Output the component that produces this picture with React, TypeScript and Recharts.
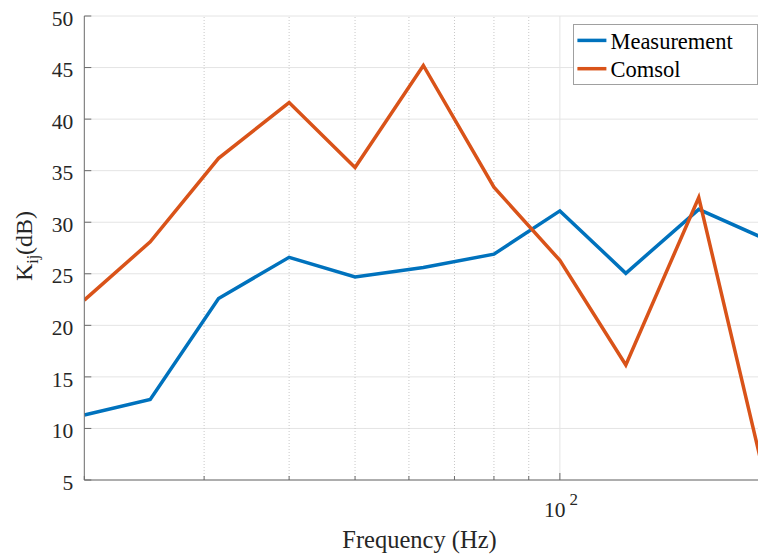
import React from 'react';
import { LineChart, Line, XAxis, YAxis, CartesianGrid, ReferenceLine, Legend } from 'recharts';

// 1/3 octave band centres (Hz)
const freqs = [20, 25, 31.5, 40, 50, 63, 80, 100, 125, 160, 200];
const measurement = [11.3, 12.8, 22.6, 26.6, 24.7, 25.6, 26.9, 31.1, 25.05, 31.25, 28.4];
const comsol = [22.45, 28.1, 36.2, 41.6, 35.3, 45.2, 33.4, 26.3, 16.15, 32.4, 5.3];
const seriesNames = ['Measurement', 'Comsol'];

const yTicks = [5, 10, 15, 20, 25, 30, 35, 40, 45, 50];
const xTicks = [20, 30, 40, 50, 60, 70, 80, 90, 100, 200];
const minorGrid = [30, 40, 50, 60, 70, 80, 90];
const majorGrid = [100];

const data = freqs.map((f, i) => ({ freq: f, measurement: measurement[i], comsol: comsol[i] }));

const FONT = '"Liberation Serif", "Times New Roman", serif';
const AXIS = '#6a6a6a';
const TEXT = '#262626';
const BLUE = '#0072BD';
const ORANGE = '#D95319';

const YTick = (props: any) => {
  const { x, y, payload } = props;
  return (
    <g>
      <line x1={x} x2={x + 7} y1={y} y2={y} stroke={AXIS} />
      <text x={x - 11} y={y + 9.7} textAnchor="end" fontFamily={FONT} fontSize={21.5} fill={TEXT}>
        {payload.value}
      </text>
    </g>
  );
};

const XTick = (props: any) => {
  const { x, y, payload } = props;
  const major = payload.value === 100;
  return (
    <g>
      <line x1={x} x2={x} y1={y} y2={y - (major ? 7 : 4)} stroke={AXIS} />
      {major && (
        <text x={x + 1} y={y + 36.7} textAnchor="middle" fontFamily={FONT} fontSize={21.5} fill={TEXT}>
          <tspan>10</tspan>
          <tspan dx={4} dy={-11.7} fontSize={17}>2</tspan>
        </text>
      )}
    </g>
  );
};

const YLabel = ({ viewBox }: any) => {
  const cx = viewBox.x + 31.5;
  const cy = viewBox.y + viewBox.height / 2 - 2;
  return (
    <text transform={`translate(${cx},${cy}) rotate(-90)`} textAnchor="middle" fontFamily={FONT} fontSize={24} fill={TEXT}>
      K<tspan fontSize={16} dy={6}>ij</tspan><tspan dy={-6}>(dB)</tspan>
    </text>
  );
};

const XLabel = ({ viewBox }: any) => (
  <text x={viewBox.x + viewBox.width / 2 - 5} y={548} textAnchor="middle" fontFamily={FONT} fontSize={24.5} fill={TEXT}>
    Frequency (Hz)
  </text>
);

const LegendBox = ({ payload }: any) => {
  const items = [...(payload || [])].sort(
    (a: any, b: any) => seriesNames.indexOf(a.value) - seriesNames.indexOf(b.value)
  );
  return (
    <svg width={185} height={62} style={{ display: 'block' }}>
      <rect x={0.5} y={0.5} width={184} height={60} fill="#fff" stroke="#a0a0a0" />
      {items.map((p: any, i: number) => (
        <g key={p.value}>
          <line x1={4.4} x2={33.4} y1={16.4 + i * 28.3} y2={16.4 + i * 28.3} stroke={p.color} strokeWidth={3.5} />
          <text x={37.4} y={25 + i * 28.3} fontFamily={FONT} fontSize={22.5} fill="#000">{p.value}</text>
        </g>
      ))}
    </svg>
  );
};

export default function App() {
  return (
    <div style={{ position: 'absolute', left: 0, top: 0, width: 758, height: 560, overflow: 'hidden', background: '#fff' }}>
      <LineChart width={780} height={560} data={data} margin={{ top: 16, right: 15.3, bottom: 50, left: 0 }}>
        <CartesianGrid vertical={false} stroke="#e4e4e4" />
        {minorGrid.map((v) => (
          <ReferenceLine key={v} x={v} stroke="#c8c8c8" strokeDasharray="1 2" />
        ))}
        {majorGrid.map((v) => (
          <ReferenceLine key={v} x={v} stroke="#e4e4e4" />
        ))}
        <XAxis
          dataKey="freq"
          type="number"
          scale="log"
          domain={[20, 200]}
          allowDataOverflow
          ticks={xTicks}
          interval={0}
          height={30}
          tickSize={0}
          tickMargin={0}
          tickLine={false}
          tick={<XTick />}
          axisLine={{ stroke: AXIS }}
          label={{ content: <XLabel /> }}
        />
        <YAxis
          type="number"
          domain={[5, 50]}
          allowDataOverflow
          ticks={yTicks}
          interval={0}
          width={84.3}
          tickSize={0}
          tickMargin={0}
          tickLine={false}
          tick={<YTick />}
          axisLine={{ stroke: AXIS }}
          label={{ content: <YLabel /> }}
        />
        <Legend
          layout="vertical"
          align="center"
          verticalAlign="middle"
          wrapperStyle={{ left: 573, top: 24, width: 185 }}
          content={<LegendBox />}
        />
        <Line
          type="linear"
          dataKey="measurement"
          name="Measurement"
          stroke={BLUE}
          strokeWidth={3.5}
          dot={false}
          isAnimationActive={false}
        />
        <Line
          type="linear"
          dataKey="comsol"
          name="Comsol"
          stroke={ORANGE}
          strokeWidth={3.5}
          dot={false}
          isAnimationActive={false}
        />
      </LineChart>
    </div>
  );
}
